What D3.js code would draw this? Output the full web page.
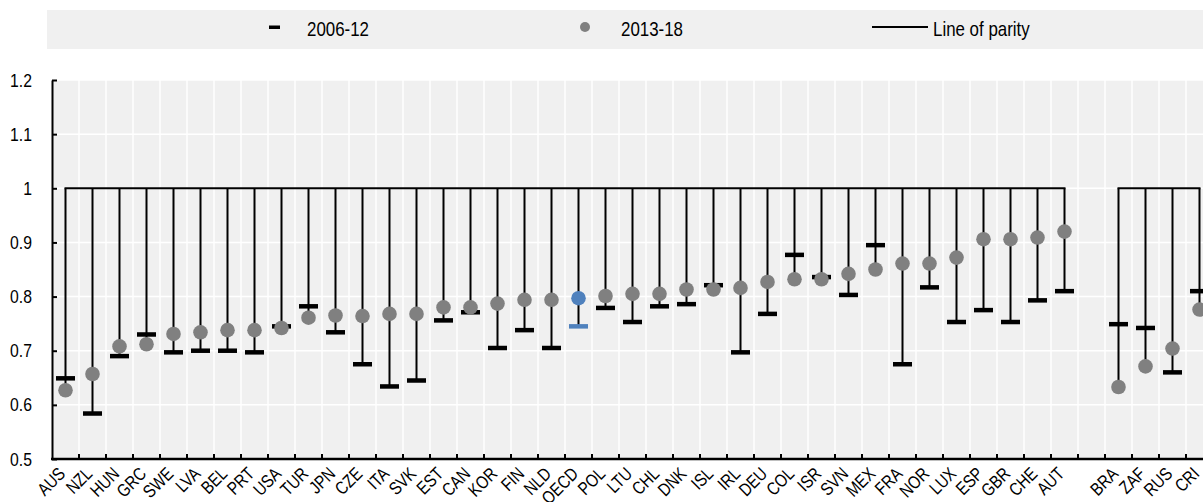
<!DOCTYPE html>
<html><head><meta charset="utf-8">
<script src="https://cdn.jsdelivr.net/npm/d3@7"></script>
<style>
body{margin:0;background:#fff}
svg{display:block}
text{font-family:"Liberation Sans",Arial,sans-serif;fill:#000}
</style>
</head><body>
<svg id="c" width="1203" height="502"></svg>
<script>
// ---- data ----
const categories = ["AUS","NZL","HUN","GRC","SWE","LVA","BEL","PRT","USA","TUR","JPN","CZE","ITA","SVK","EST","CAN","KOR","FIN","NLD","OECD","POL","LTU","CHL","DNK","ISL","IRL","DEU","COL","ISR","SVN","MEX","FRA","NOR","LUX","ESP","GBR","CHE","AUT","","BRA","ZAF","RUS","CRI"];
const v2006_12 = [0.649,0.584,0.690,0.730,0.697,0.700,0.700,0.697,0.745,0.782,0.734,0.675,0.634,0.645,0.756,0.771,0.705,0.738,0.705,0.745,0.779,0.753,0.782,0.786,0.821,0.697,0.768,0.877,0.836,0.803,0.895,0.675,0.817,0.753,0.775,0.753,0.793,0.810,null,0.749,0.742,0.660,0.810];
const v2013_18 = [0.627,0.657,0.708,0.712,0.731,0.734,0.738,0.738,0.742,0.761,0.765,0.764,0.768,0.768,0.780,0.780,0.787,0.794,0.794,0.797,0.801,0.805,0.805,0.813,0.813,0.816,0.827,0.832,0.832,0.842,0.850,0.861,0.861,0.872,0.906,0.906,0.909,0.920,null,0.633,0.671,0.704,0.776];
const parity = 1;
const yTicks = [0.5,0.6,0.7,0.8,0.9,1.0,1.1,1.2];
const yTickLabels = ["0.5","0.6","0.7","0.8","0.9","1","1.1","1.2"];
const highlight = "OECD";
const legendLabels = ["2006-12","2013-18","Line of parity"];

// ---- layout ----
const W = 1203, H = 502;
const mLeft = 52, step = 27, mTop = 80, mBottom = 459;
const narrow = 0.83;
const svg = d3.select("#c");
const idx = d3.range(categories.length);
const x = d3.scaleBand().domain(idx).range([mLeft, mLeft + step*categories.length]).padding(0);
const y = d3.scaleLinear().domain([0.5,1.2]).range([mBottom, mTop]);
const cx = i => x(i) + x.bandwidth()/2;

// background
svg.append("rect").attr("x", mLeft).attr("y", mTop).attr("width", W-mLeft).attr("height", mBottom-mTop).attr("fill","#f0f0f0");
// gridlines
svg.append("g").selectAll("line").data(yTicks.slice(1)).join("line")
  .attr("x1", mLeft).attr("x2", W).attr("y1", d=>y(d)).attr("y2", d=>y(d))
  .attr("stroke","#fff").attr("stroke-width",1.5);
svg.append("g").selectAll("line").data(idx.slice(1)).join("line")
  .attr("x1", d=>x(d)).attr("x2", d=>x(d)).attr("y1", mTop).attr("y2", mBottom)
  .attr("stroke","#fff").attr("stroke-width",1.5);

// legend
const lg = svg.append("g");
lg.append("rect").attr("x",47).attr("y",10).attr("width",W-47).attr("height",39).attr("fill","#f0f0f0");
lg.append("rect").attr("x",269).attr("y",25.5).attr("width",11).attr("height",3.5).attr("fill","#000");
lg.append("circle").attr("cx",585).attr("cy",27).attr("r",5).attr("fill","#808080");
lg.append("line").attr("x1",872).attr("x2",928).attr("y1",27).attr("y2",27).attr("stroke","#000").attr("stroke-width",2);
const legX = [307, 621, 933];
lg.selectAll("text").data(legendLabels).join("text")
  .attr("transform",(d,i)=>`translate(${legX[i]},35.5) scale(0.845,1)`)
  .attr("font-size",20).text(d=>d);

// data points
const pts = idx.filter(i => categories[i] !== "").map(i => ({i, c:categories[i], a:v2006_12[i], b:v2013_18[i]}));

// stems
svg.append("g").selectAll("line").data(pts).join("line")
  .attr("x1", d=>cx(d.i)).attr("x2", d=>cx(d.i))
  .attr("y1", y(parity)).attr("y2", d=>y(Math.min(d.a,d.b)))
  .attr("stroke","#000").attr("stroke-width",2);

// parity line per group
const groups = [];
let cur = [];
idx.forEach(i => { if (categories[i] === "") { if (cur.length) groups.push(cur); cur = []; } else cur.push(i); });
if (cur.length) groups.push(cur);
svg.append("g").selectAll("line").data(groups).join("line")
  .attr("x1", g=>cx(g[0])-1).attr("x2", g=>cx(g[g.length-1])+1)
  .attr("y1", y(parity)).attr("y2", y(parity))
  .attr("stroke","#000").attr("stroke-width",2);

// dashes 2006-12
svg.append("g").selectAll("rect").data(pts).join("rect")
  .attr("x", d=>cx(d.i)-9.5).attr("width",19)
  .attr("y", d=>y(d.a)-2.25).attr("height",4.5)
  .attr("fill", d=>d.c===highlight ? "#4f81bd" : "#000");

// dots 2013-18
svg.append("g").selectAll("circle").data(pts).join("circle")
  .attr("cx", d=>cx(d.i)).attr("cy", d=>y(d.b)).attr("r",7.3)
  .attr("fill", d=>d.c===highlight ? "#4f81bd" : "#808080");

// y axis
const yAxis = d3.axisLeft(y).tickValues(yTicks).tickFormat((d,i)=>yTickLabels[i]).tickSizeInner(-5).tickSizeOuter(0).tickPadding(20);
const ya = svg.append("g").attr("transform",`translate(${mLeft},0)`).call(yAxis);
ya.attr("font-family",null).attr("font-size",null);
ya.select(".domain").attr("stroke","#000").attr("stroke-width",2);
ya.selectAll(".tick line").attr("stroke","#000").attr("stroke-width",2);
ya.selectAll(".tick text").attr("font-size",19).attr("fill","#000")
  .attr("x", -20/narrow).attr("transform",`scale(${narrow},1)`);

// x axis
const xa = svg.append("g");
xa.append("line").attr("x1",mLeft-1).attr("x2",W).attr("y1",mBottom).attr("y2",mBottom).attr("stroke","#000").attr("stroke-width",2.5);
xa.selectAll("line.tk").data(idx.slice(1)).join("line").attr("class","tk")
  .attr("x1", d=>x(d)).attr("x2", d=>x(d)).attr("y1", mBottom).attr("y2", mBottom-5)
  .attr("stroke","#000").attr("stroke-width",2);
xa.selectAll("text").data(idx.filter(i=>categories[i]!=="")).join("text")
  .attr("transform", i=>`translate(${cx(i)-8},${mBottom+7}) rotate(-45) scale(${narrow},1)`)
  .attr("text-anchor","end").attr("dy","0.7em").attr("font-size",18)
  .text(i=>categories[i]);
</script>
</body></html>
